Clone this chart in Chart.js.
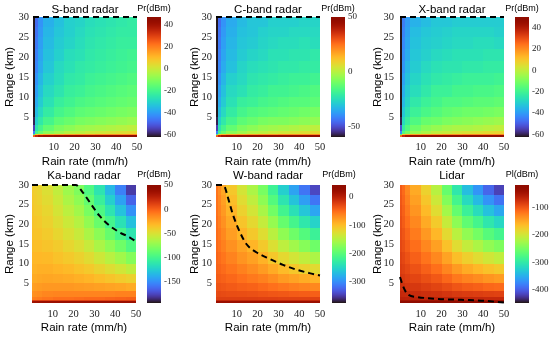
<!DOCTYPE html>
<html>
<head>
<meta charset="utf-8">
<script src="https://cdn.jsdelivr.net/npm/chart.js@4.4.1/dist/chart.umd.min.js"></script>
<style>
  html, body { margin: 0; padding: 0; background: #fff; }
  #wrap { position: relative; width: 550px; height: 340px; overflow: hidden; }
  #wrap canvas { position: absolute; }
</style>
</head>
<body>
<div id="wrap"></div>
<script>
// -----------------------------
// grid edges + tick labels
// -----------------------------
const rainEdges = [0, 0.8, 2.5, 5, 10, 15, 20, 25, 30, 35, 40, 45, 50];
const rangeEdges = [0, 0.4, 0.8, 1.5, 3, 5, 7.5, 10, 13, 16, 19, 22, 25, 27.5, 30];
const rainTicks = [10, 20, 30, 40, 50];
const rangeTicks = [5, 10, 15, 20, 25, 30];

// received power (dBm), one row per range bin (bottom -> top), one value per rain-rate bin
const sBand = [
  [25, 35, 40, 42, 44, 45, 45, 46, 46, 46, 46, 46],
  [-20, 8, 12, 14, 15, 16, 17, 17, 18, 18, 18, 18],
  [-45, -20, -14, -9, -6, -3, -2, 0, 1, 2, 3, 4],
  [-55, -26, -20, -15, -11, -9, -7, -6, -5, -4, -3, -2],
  [-60, -31, -25, -20, -16, -14, -12, -11, -10, -9, -8, -7],
  [-62, -35, -29, -24, -20, -18, -16, -15, -14, -13, -12, -11],
  [-62, -38, -32, -27, -23, -21, -19, -18, -17, -16, -15, -14],
  [-62, -40, -34, -29, -26, -23, -22, -20, -19, -18, -17, -16],
  [-62, -42, -36, -31, -28, -25, -24, -22, -21, -20, -19, -18],
  [-62, -44, -38, -33, -29, -27, -25, -24, -23, -22, -21, -20],
  [-62, -45, -39, -34, -31, -28, -27, -25, -24, -23, -22, -21],
  [-62, -46, -40, -35, -32, -30, -28, -26, -25, -24, -23, -23],
  [-62, -47, -41, -36, -33, -31, -29, -27, -26, -25, -24, -24],
  [-62, -48, -42, -37, -34, -31, -30, -28, -27, -26, -25, -24],
];
const cBand = [
  [28, 38, 43, 45, 47, 48, 48, 49, 49, 49, 49, 49],
  [-17, 11, 15, 17, 18, 19, 20, 20, 21, 21, 21, 21],
  [-42, -17, -11, -6, -3, 0, 1, 3, 4, 5, 6, 7],
  [-52, -23, -17, -12, -8, -6, -4, -3, -2, -1, 0, 1],
  [-57, -28, -22, -17, -13, -11, -9, -8, -8, -7, -6, -5],
  [-59, -32, -26, -21, -17, -15, -14, -13, -12, -11, -10, -9],
  [-59, -35, -29, -24, -20, -19, -17, -16, -15, -14, -14, -13],
  [-59, -37, -31, -26, -24, -21, -20, -18, -18, -17, -16, -15],
  [-59, -39, -33, -28, -26, -23, -22, -21, -20, -19, -19, -18],
  [-59, -41, -35, -31, -27, -25, -24, -23, -22, -22, -21, -21],
  [-59, -42, -36, -32, -29, -27, -26, -24, -24, -23, -23, -22],
  [-59, -43, -37, -33, -30, -29, -27, -26, -25, -25, -24, -25],
  [-59, -44, -38, -34, -31, -30, -28, -27, -27, -26, -26, -26],
  [-59, -45, -39, -35, -32, -30, -30, -28, -28, -28, -27, -27],
];
const xBand = [
  [25, 38, 43, 45, 47, 48, 48, 49, 49, 49, 49, 49],
  [-17, 11, 15, 17, 18, 19, 20, 20, 21, 21, 21, 21],
  [-42, -17, -11, -6, -3, 0, 1, 3, 4, 5, 6, 7],
  [-52, -23, -17, -12, -8, -6, -4, -3, -3, -2, -1, 0],
  [-60, -28, -22, -17, -13, -12, -10, -9, -8, -7, -6, -5],
  [-62, -32, -26, -21, -18, -16, -14, -13, -12, -12, -11, -10],
  [-62, -35, -29, -24, -21, -19, -17, -17, -16, -15, -15, -14],
  [-62, -37, -31, -27, -24, -21, -21, -19, -19, -18, -18, -17],
  [-62, -39, -33, -29, -26, -24, -23, -22, -21, -21, -21, -20],
  [-62, -41, -35, -31, -28, -26, -25, -25, -24, -24, -23, -23],
  [-62, -42, -37, -32, -30, -28, -27, -26, -26, -26, -25, -25],
  [-62, -43, -38, -33, -31, -30, -29, -28, -28, -27, -27, -28],
  [-62, -44, -39, -34, -32, -31, -30, -29, -29, -29, -29, -30],
  [-62, -45, -40, -36, -34, -32, -32, -31, -31, -31, -31, -31],
];
const kaBand = [
  [35, 36, 37, 38, 38, 38, 38, 38, 38, 38, 38, 38],
  [12, 12, 12, 12, 12, 12, 12, 12, 12, 12, 12, 12],
  [-11, -10, -9, -7, -5, -5, -4, -3, -3, -2, -1, 0],
  [-17, -16, -15, -13, -12, -12, -12, -12, -12, -12, -11, -11],
  [-22, -21, -20, -19, -19, -19, -20, -21, -22, -23, -24, -26],
  [-26, -26, -25, -24, -25, -26, -28, -30, -33, -36, -39, -42],
  [-29, -29, -28, -28, -30, -32, -35, -38, -43, -48, -53, -59],
  [-31, -31, -31, -32, -35, -38, -42, -47, -54, -61, -68, -77],
  [-33, -34, -34, -36, -39, -44, -49, -56, -65, -74, -84, -95],
  [-35, -36, -36, -39, -44, -50, -56, -65, -75, -87, -99, -113],
  [-36, -37, -38, -42, -48, -55, -62, -73, -86, -100, -115, -131],
  [-37, -39, -40, -44, -52, -60, -68, -81, -96, -113, -130, -149],
  [-38, -40, -42, -47, -55, -65, -74, -88, -105, -124, -143, -165],
  [-39, -41, -43, -49, -58, -69, -79, -95, -113, -134, -155, -179],
];
const wBand = [
  [20, 20, 20, 20, 20, 20, 20, 20, 20, 20, 20, 20],
  [-8, -8, -8, -8, -8, -8, -8, -8, -8, -8, -8, -8],
  [-25, -24, -24, -24, -24, -24, -25, -25, -26, -26, -26, -26],
  [-31, -30, -31, -32, -33, -34, -36, -38, -39, -41, -42, -43],
  [-36, -36, -38, -40, -43, -45, -49, -53, -57, -61, -64, -67],
  [-41, -42, -44, -48, -53, -58, -63, -70, -78, -83, -89, -94],
  [-44, -46, -50, -56, -63, -70, -78, -88, -99, -107, -115, -123],
  [-46, -50, -56, -64, -74, -82, -93, -107, -121, -133, -143, -154],
  [-49, -54, -62, -72, -84, -95, -109, -127, -145, -160, -174, -187],
  [-51, -57, -67, -80, -95, -108, -125, -147, -169, -187, -203, -220],
  [-52, -61, -72, -87, -105, -121, -141, -166, -192, -213, -233, -252],
  [-54, -64, -77, -94, -115, -133, -156, -185, -215, -240, -262, -285],
  [-55, -66, -81, -101, -124, -144, -170, -203, -236, -264, -289, -314],
  [-56, -69, -85, -107, -132, -154, -182, -219, -255, -286, -314, -341],
];
const lidar = [
  [-25, -25, -25, -25, -25, -25, -25, -25, -25, -25, -25, -25],
  [-48, -48, -48, -48, -48, -48, -48, -48, -48, -48, -48, -48],
  [-63, -63, -64, -64, -65, -65, -66, -68, -68, -69, -70, -70],
  [-69, -70, -71, -72, -74, -76, -79, -82, -84, -85, -87, -88],
  [-75, -76, -79, -81, -85, -89, -94, -100, -104, -107, -111, -113],
  [-80, -82, -86, -90, -96, -102, -111, -121, -128, -133, -139, -143],
  [-84, -87, -92, -98, -107, -116, -129, -142, -153, -161, -169, -175],
  [-87, -91, -98, -107, -118, -131, -148, -166, -179, -190, -201, -210],
  [-91, -96, -105, -115, -130, -146, -168, -190, -208, -221, -236, -246],
  [-94, -100, -110, -123, -141, -161, -188, -214, -236, -252, -270, -283],
  [-96, -104, -116, -131, -152, -175, -207, -238, -264, -283, -304, -319],
  [-99, -107, -121, -139, -163, -190, -226, -262, -291, -314, -337, -355],
  [-101, -110, -126, -146, -172, -203, -244, -283, -316, -342, -368, -388],
  [-103, -113, -131, -152, -181, -215, -260, -303, -339, -367, -396, -418],
];

// colour bar limits and ticks
const sLimits = [-62, 47], sBarTicks = [-60, -40, -20, 0, 20, 40];
const cLimits = [-59, 50], cBarTicks = [-50, 0, 50];
const xLimits = [-62, 50], xBarTicks = [-60, -40, -20, 0, 20, 40];
const kaLimits = [-193, 50], kaBarTicks = [-150, -100, -50, 0, 50];
const wLimits = [-372, 41], wBarTicks = [-300, -200, -100, 0];
const lidarLimits = [-447, -19], lidarBarTicks = [-400, -300, -200, -100];

// dashed threshold lines (rain rate, range)
const flatRain = [0, 50], flatRange = [30, 30];
const kaLineRain = [0, 21.1, 24.3, 28.3, 32.4, 37.2, 42, 46.9, 50];
const kaLineRange = [30, 30, 28.2, 25.2, 22.2, 19.7, 18.0, 16.7, 15.6];
const wLineRain = [0, 3.5, 4.3, 5.9, 8.3, 11.5, 14.6, 19.4, 25.8, 32.2, 38.5, 44.9, 50];
const wLineRange = [30, 30, 29.4, 26.5, 22.2, 18.0, 15.0, 12.9, 11.2, 9.7, 8.5, 7.6, 7.0];
const lidarLineRain = [0, 1.3, 3.7, 8.5, 17.6, 29.5, 40.7, 50];
const lidarLineRange = [6.6, 4.5, 2.2, 1.5, 1.05, 0.8, 0.55, 0.1];

// -----------------------------
// panels: data + where they sit
// -----------------------------
const panels = [
  { title: "S-band radar", bar: "Pr(dBm)", grid: sBand, lim: sLimits, ticks: sBarTicks, lx: flatRain, ly: flatRange,
    left: 33, top: 17, h: 120, cb: 147, yTitleX: 10, yPad: 4, row: 0 },
  { title: "C-band radar", bar: "Pr(dBm)", grid: cBand, lim: cLimits, ticks: cBarTicks, lx: flatRain, ly: flatRange,
    left: 216, top: 17, h: 120, cb: 331, yTitleX: 195, yPad: 4, row: 0 },
  { title: "X-band radar", bar: "Pr(dBm)", grid: xBand, lim: xLimits, ticks: xBarTicks, lx: flatRain, ly: flatRange,
    left: 400, top: 17, h: 120, cb: 515, yTitleX: 378, yPad: 6, row: 0 },
  { title: "Ka-band radar", bar: "Pr(dBm)", grid: kaBand, lim: kaLimits, ticks: kaBarTicks, lx: kaLineRain, ly: kaLineRange,
    left: 32, top: 185, h: 118, cb: 147, yTitleX: 10, yPad: 3, row: 1 },
  { title: "W-band radar", bar: "Pr(dBm)", grid: wBand, lim: wLimits, ticks: wBarTicks, lx: wLineRain, ly: wLineRange,
    left: 216, top: 185, h: 118, cb: 332, yTitleX: 195, yPad: 4, row: 1 },
  { title: "Lidar", bar: "Pl(dBm)", grid: lidar, lim: lidarLimits, ticks: lidarBarTicks, lx: lidarLineRain, ly: lidarLineRange,
    left: 400, top: 185, h: 118, cb: 515, yTitleX: 378, yPad: 6, row: 1 },
];

const PLOT_W = 104, AXIS_W = 33, TOP_H = 17, BOTTOM_H = 33, RIGHT_PAD = 10;
const CB_W = 14, CB_LEFT_PAD = 12, CB_AXIS_W = 34;
const serif = '"Liberation Serif", "Times New Roman", serif';
const sans = '"Liberation Sans", Arial, sans-serif';

// turbo colormap
function turbo(t) {
  t = Math.min(1, Math.max(0, t));
  const r = 0.13572138 + t * (4.6153926 + t * (-42.66032258 + t * (132.13108234 + t * (-152.94239396 + t * 59.28637943))));
  const g = 0.09140261 + t * (2.19418839 + t * (4.84296658 + t * (-14.18503333 + t * (4.27729857 + t * 2.82956604))));
  const b = 0.1066733 + t * (12.64194608 + t * (-60.58204836 + t * (110.36276771 + t * (-89.90310912 + t * 27.34824973))));
  const c = (v) => Math.round(255 * Math.min(1, Math.max(0, v)));
  return `rgb(${c(r)},${c(g)},${c(b)})`;
}

// heat map cells, placed through the chart's own x / y scales
const heatPlugin = {
  id: "heat",
  beforeDatasetsDraw(chart, args, opts) {
    const { ctx, scales: { x, y } } = chart;
    const [lo, hi] = opts.lim;
    ctx.save();
    opts.grid.forEach((row, i) => {
      const yTop = Math.round(y.getPixelForValue(rangeEdges[i + 1]));
      const yBot = Math.round(y.getPixelForValue(rangeEdges[i]));
      row.forEach((v, j) => {
        const x0 = Math.round(x.getPixelForValue(rainEdges[j]));
        const x1 = Math.round(x.getPixelForValue(rainEdges[j + 1]));
        ctx.fillStyle = turbo((v - lo) / (hi - lo));
        ctx.fillRect(x0, yTop, x1 - x0, yBot - yTop);
      });
    });
    ctx.restore();
  },
  afterDraw(chart, args, opts) {
    // panel title, centred over the plot
    const { ctx, chartArea: a } = chart;
    ctx.save();
    ctx.font = "11.5px " + sans;
    ctx.fillStyle = "#000";
    ctx.textAlign = "center";
    ctx.textBaseline = "middle";
    ctx.fillText(opts.title, (a.left + a.right) / 2, opts.titleY);
    ctx.restore();
  },
};

// colour bar strip + its label
const barPlugin = {
  id: "cbar",
  beforeDatasetsDraw(chart) {
    const { ctx, chartArea: a, scales: { y } } = chart;
    ctx.save();
    for (let py = Math.floor(a.top); py < Math.ceil(a.bottom); py++) {
      const v = y.getValueForPixel(py + 0.5);
      ctx.fillStyle = turbo((v - y.min) / (y.max - y.min));
      ctx.fillRect(a.left, py, a.right - a.left, 1);
    }
    ctx.restore();
  },
  afterDraw(chart, args, opts) {
    const { ctx, chartArea: a } = chart;
    ctx.save();
    ctx.font = "9px " + sans;
    ctx.fillStyle = "#000";
    ctx.textAlign = "center";
    ctx.textBaseline = "middle";
    ctx.fillText(opts.label, (a.left + a.right) / 2, opts.labelY);
    ctx.restore();
  },
};

const wrap = document.getElementById("wrap");
function addCanvas(left, top, w, h) {
  const c = document.createElement("canvas");
  c.width = w; c.height = h;
  c.style.left = left + "px"; c.style.top = top + "px";
  c.style.width = w + "px"; c.style.height = h + "px";
  wrap.appendChild(c);
  return c;
}

panels.forEach((p) => {
  // ---- main heat map ----
  const cLeft = p.left - AXIS_W, cTop = p.top - TOP_H;
  const canvas = addCanvas(cLeft, cTop, AXIS_W + PLOT_W + RIGHT_PAD, TOP_H + p.h + BOTTOM_H);
  new Chart(canvas, {
    type: "scatter",
    data: {
      datasets: [{
        data: p.lx.map((x, i) => ({ x, y: p.ly[i] })),
        showLine: true,
        borderColor: "#000",
        borderWidth: 2,
        borderDash: [6, 4],
        pointRadius: 0,
        cubicInterpolationMode: "monotone",
        clip: false,
      }],
    },
    options: {
      responsive: false,
      animation: false,
      events: [],
      layout: { padding: { top: TOP_H, right: RIGHT_PAD } },
      plugins: {
        legend: { display: false },
        tooltip: { enabled: false },
        heat: { grid: p.grid, lim: p.lim, title: p.title, titleY: p.row === 0 ? 10 : 8 },
      },
      scales: {
        x: {
          type: "linear", min: 0, max: 50,
          afterBuildTicks: (s) => { s.ticks = rainTicks.map((v) => ({ value: v })); },
          afterFit: (s) => { s.height = BOTTOM_H; },
          grid: { display: false, drawTicks: false }, border: { display: false },
          ticks: { font: { family: serif, size: 10.5 }, color: "#222", padding: p.row === 0 ? 3.5 : 4.5, maxRotation: 0, autoSkip: false },
          title: { display: true, text: "Rain rate (mm/h)", color: "#000",
            font: { family: sans, size: 11.5 }, padding: { top: 0, bottom: 1.1 } },
        },
        y: {
          type: "linear", min: 0, max: 30,
          afterBuildTicks: (s) => { s.ticks = rangeTicks.map((v) => ({ value: v })); },
          afterFit: (s) => { s.width = AXIS_W; },
          grid: { display: false, drawTicks: false }, border: { display: false },
          ticks: { font: { family: serif, size: 10.5 }, color: "#222", padding: p.yPad, autoSkip: false },
          title: { display: true, text: "Range (km)", color: "#000",
            font: { family: sans, size: 11.5 }, padding: { top: p.yTitleX - cLeft - 6.9, bottom: 0 } },
        },
      },
    },
    plugins: [heatPlugin],
  });

  // ---- colour bar ----
  const barCanvas = addCanvas(p.cb - CB_LEFT_PAD, cTop, CB_LEFT_PAD + CB_W + CB_AXIS_W, TOP_H + p.h + 8);
  new Chart(barCanvas, {
    type: "scatter",
    data: { datasets: [] },
    options: {
      responsive: false,
      animation: false,
      events: [],
      layout: { padding: { top: TOP_H, bottom: 8, left: CB_LEFT_PAD } },
      plugins: {
        legend: { display: false },
        tooltip: { enabled: false },
        cbar: { label: p.bar, labelY: p.row === 0 ? 9 : 7 },
      },
      scales: {
        x: { display: false, min: 0, max: 1 },
        y: {
          position: "right",
          min: p.lim[0], max: p.lim[1],
          afterBuildTicks: (s) => { s.ticks = p.ticks.map((v) => ({ value: v })); },
          afterFit: (s) => { s.width = CB_AXIS_W; },
          grid: { display: false, drawTicks: false }, border: { display: false },
          ticks: { font: { family: serif, size: 9 }, color: "#222", padding: 3, autoSkip: false },
        },
      },
    },
    plugins: [barPlugin],
  });
});
</script>
</body>
</html>
